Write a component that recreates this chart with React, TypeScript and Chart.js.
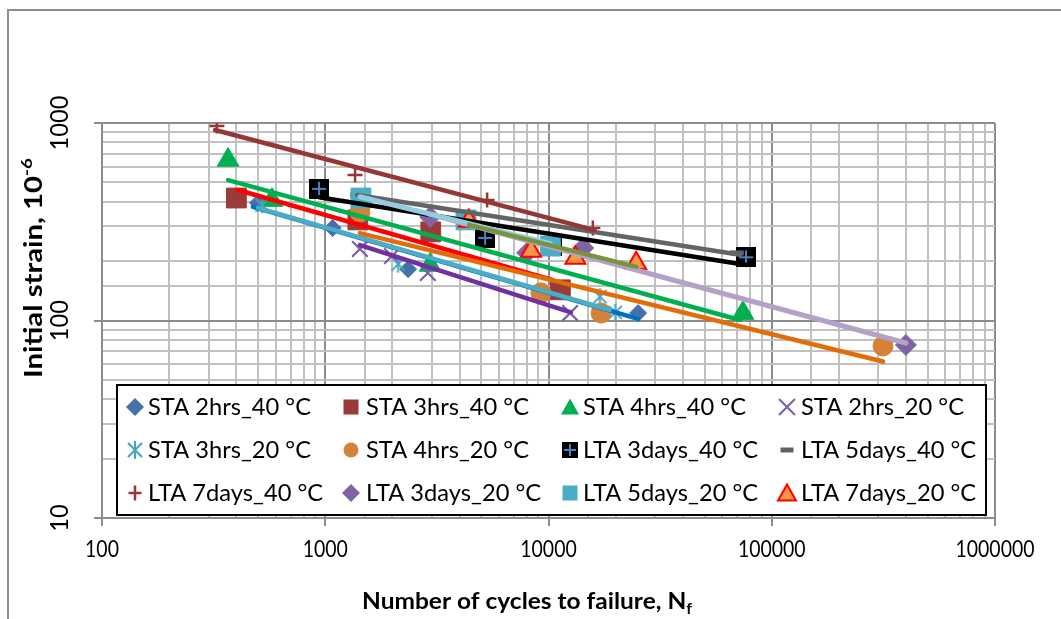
import React, { useEffect, useRef } from 'react';
import { Chart, registerables } from 'chart.js';

Chart.register(...registerables);

// ---------------- data ----------------
const seriesNames = [
  'STA 2hrs_40 °C', 'STA 3hrs_40 °C', 'STA 4hrs_40 °C', 'STA 2hrs_20 °C',
  'STA 3hrs_20 °C', 'STA 4hrs_20 °C', 'LTA 3days_40 °C', 'LTA 5days_40 °C',
  'LTA 7days_40 °C', 'LTA 3days_20 °C', 'LTA 5days_20 °C', 'LTA 7days_20 °C',
];

// Number of cycles to failure (Nf) and initial strain (10^-6)
const sta2h40Cycles = [500, 1080, 2350, 25200];
const sta2h40Strain = [394, 294, 182, 109];
const sta3h40Cycles = [400, 1400, 2970, 11300];
const sta3h40Strain = [417, 323, 281, 143];
const sta4h40Cycles = [367, 577, 2950, 74300];
const sta4h40Strain = [650, 407, 191, 109];
const sta2h20Cycles = [1430, 1990, 2880, 12500];
const sta2h20Strain = [230, 212, 174, 109];
const sta3h20Cycles = [521, 2120, 17000, 19900];
const sta3h20Strain = [385, 193, 132, 110];
const sta4h20Cycles = [1430, 9250, 17200, 315000];
const sta4h20Strain = [354, 138, 109, 74.3];
const lta3d40Cycles = [938, 5200, 10400, 76700];
const lta3d40Strain = [464, 262, 238, 209];
const lta5d40Cycles = [1390, 69800];
const lta5d40Strain = [432, 220];
const lta7d40Cycles = [327, 1360, 5310, 15800];
const lta7d40Strain = [966, 545, 407, 294];
const lta3d20Cycles = [2950, 8020, 14300, 399000];
const lta3d20Strain = [334, 220, 233, 75.2];
const lta5d20Cycles = [1445, 4270, 10200];
const lta5d20Strain = [417, 323, 238];
const lta7d20Cycles = [4400, 8350, 13200, 24700];
const lta7d20Strain = [319, 225, 207, 195];

// Power trendline end points: [Nf start, strain start, Nf end, strain end]
const sta2h40Trend = [474, 376, 25200, 102];
const sta3h40Trend = [406, 458, 10500, 160];
const sta4h40Trend = [367, 514, 72100, 100.6];
const sta2h20Trend = [1430, 241, 12600, 110];
const sta3h20Trend = [500, 372, 18800, 113];
const sta4h20Trend = [1430, 277, 315000, 62];
const lta3d40Trend = [938, 421, 77000, 191];
const lta5d40Trend = [1390, 432, 72100, 215];
const lta7d40Trend = [321, 922, 16100, 287];
const lta3d20Trend = [2950, 345, 399000, 76.9];
const lta5d20Trend = [1430, 423, 10200, 245];
const lta7d20Trend = [4400, 305, 24800, 187];

const xTickValues = [100, 1000, 10000, 100000, 1000000];
const xTickLabels = ['100', '1000', '10000', '100000', '1000000'];
const yTickValues = [10, 100, 1000];
const yTickLabels = ['10', '100', '1000'];
const xTitle = 'Number of cycles to failure, N';
const xTitleSub = 'f';
const yTitle = 'Initial strain, 10';
const yTitleSup = '-6';

const cyclesList = [sta2h40Cycles, sta3h40Cycles, sta4h40Cycles, sta2h20Cycles, sta3h20Cycles, sta4h20Cycles,
  lta3d40Cycles, lta5d40Cycles, lta7d40Cycles, lta3d20Cycles, lta5d20Cycles, lta7d20Cycles];
const strainList = [sta2h40Strain, sta3h40Strain, sta4h40Strain, sta2h20Strain, sta3h20Strain, sta4h20Strain,
  lta3d40Strain, lta5d40Strain, lta7d40Strain, lta3d20Strain, lta5d20Strain, lta7d20Strain];
const trendList = [sta2h40Trend, sta3h40Trend, sta4h40Trend, sta2h20Trend, sta3h20Trend, sta4h20Trend,
  lta3d40Trend, lta5d40Trend, lta7d40Trend, lta3d20Trend, lta5d20Trend, lta7d20Trend];

// ---------------- styles ----------------
const markerStyles: any[] = [
  { kind: 'diamond', pointStyle: 'rectRot', radius: 8.5, fill: '#4472a8', stroke: '#4472a8', bw: 1 },
  { kind: 'square', pointStyle: 'rect', radius: 14, fill: '#9b3b38', stroke: '#9b3b38', bw: 1 },
  { kind: 'triangle', pointStyle: 'triangle', radius: 12.5, fill: '#00b050', stroke: '#00b050', bw: 1 },
  { kind: 'x', pointStyle: 'crossRot', radius: 11, fill: '#7b5ea7', stroke: '#7b5ea7', bw: 2.2 },
  { kind: 'asterisk', pointStyle: null, radius: 9, fill: '#46a5bd', stroke: '#46a5bd', bw: 2 },
  { kind: 'circle', pointStyle: 'circle', radius: 10, fill: '#d4823a', stroke: '#d4823a', bw: 1 },
  { kind: 'boxplus', pointStyle: null, radius: 10, fill: '#000000', stroke: '#4f81bd', bw: 2 },
  { kind: 'dash', pointStyle: 'line', radius: 7, fill: '#606060', stroke: '#606060', bw: 5 },
  { kind: 'plus', pointStyle: 'cross', radius: 7.5, fill: '#953735', stroke: '#953735', bw: 2.5 },
  { kind: 'diamond', pointStyle: 'rectRot', radius: 10.5, fill: '#8064a2', stroke: '#8064a2', bw: 1 },
  { kind: 'square', pointStyle: 'rect', radius: 14, fill: '#4bacc6', stroke: '#4bacc6', bw: 1 },
  { kind: 'triangle', pointStyle: 'triangle', radius: 11.5, fill: '#f79646', stroke: '#ff0000', bw: 2 },
];
const trendColors = ['#0070c0', '#ff0000', '#00b050', '#7030a0', '#4bacc6', '#e36c09',
  '#000000', '#646464', '#953735', '#b3a2c7', '#93cddd', '#77933c'];

const MAJOR = '#8c8c8c';
const MINOR = '#c0c0c0';
const FONT = 'Lato, "Open Sans", sans-serif';

const isDecade = (v: number) => {
  if (!v || v <= 0) return false;
  const l = Math.log10(v);
  return Math.abs(l - Math.round(l)) < 1e-6;
};

function makeAsterisk(size: number, color: string, lw: number) {
  const c = document.createElement('canvas');
  const d = Math.ceil(size + lw * 2);
  c.width = d; c.height = d;
  const g = c.getContext('2d')!;
  const m = d / 2, r = size / 2, k = r * 0.78;
  g.strokeStyle = color; g.lineWidth = lw;
  g.beginPath();
  g.moveTo(m - k, m - k); g.lineTo(m + k, m + k);
  g.moveTo(m + k, m - k); g.lineTo(m - k, m + k);
  g.moveTo(m, m - r); g.lineTo(m, m + r);
  g.stroke();
  return c;
}

function makeBoxPlus(size: number, fill: string, plus: string, lw: number) {
  const c = document.createElement('canvas');
  c.width = size; c.height = size;
  const g = c.getContext('2d')!;
  g.fillStyle = fill; g.fillRect(0, 0, size, size);
  const m = size / 2, a = size / 2 - 3;
  g.strokeStyle = plus; g.lineWidth = lw;
  g.beginPath();
  g.moveTo(m - a, m); g.lineTo(m + a, m);
  g.moveTo(m, m - a); g.lineTo(m, m + a);
  g.stroke();
  return c;
}

function drawLegendMarker(ctx: CanvasRenderingContext2D, st: any, x: number, y: number) {
  ctx.save();
  ctx.fillStyle = st.fill; ctx.strokeStyle = st.stroke; ctx.lineWidth = st.bw;
  ctx.beginPath();
  switch (st.kind) {
    case 'diamond':
      ctx.moveTo(x, y - 9); ctx.lineTo(x + 9, y); ctx.lineTo(x, y + 9); ctx.lineTo(x - 9, y); ctx.closePath(); ctx.fill();
      break;
    case 'square':
      ctx.fillRect(x - 7.5, y - 7.5, 15, 15);
      break;
    case 'triangle':
      ctx.moveTo(x, y - 8.5); ctx.lineTo(x + 9, y + 7.5); ctx.lineTo(x - 9, y + 7.5); ctx.closePath(); ctx.fill();
      if (st.stroke !== st.fill) ctx.stroke();
      break;
    case 'x':
      ctx.lineWidth = 2;
      ctx.moveTo(x - 8, y - 8); ctx.lineTo(x + 8, y + 8); ctx.moveTo(x + 8, y - 8); ctx.lineTo(x - 8, y + 8); ctx.stroke();
      break;
    case 'asterisk':
      ctx.lineWidth = 2;
      ctx.moveTo(x - 7, y - 7); ctx.lineTo(x + 7, y + 7); ctx.moveTo(x + 7, y - 7); ctx.lineTo(x - 7, y + 7);
      ctx.moveTo(x, y - 9); ctx.lineTo(x, y + 9); ctx.stroke();
      break;
    case 'circle':
      ctx.arc(x, y, 7.5, 0, Math.PI * 2); ctx.fill();
      break;
    case 'boxplus':
      ctx.fillStyle = '#000'; ctx.fillRect(x - 8, y - 8, 16, 16);
      ctx.strokeStyle = st.stroke; ctx.lineWidth = 2;
      ctx.moveTo(x - 6, y); ctx.lineTo(x + 6, y); ctx.moveTo(x, y - 6); ctx.lineTo(x, y + 6); ctx.stroke();
      break;
    case 'dash':
      ctx.fillRect(x - 6.5, y - 2.5, 13, 5);
      break;
    case 'plus':
      ctx.lineWidth = 2.5;
      ctx.moveTo(x - 6.5, y); ctx.lineTo(x + 6.5, y); ctx.moveTo(x, y - 7.5); ctx.lineTo(x, y + 7.5); ctx.stroke();
      break;
  }
  ctx.restore();
}

type Part = { text: string; font: string; dy: number };

function drawRich(ctx: CanvasRenderingContext2D, parts: Part[], x: number, y: number, rot: number, targetLen: number) {
  ctx.save();
  let total = 0;
  const widths = parts.map((p) => { ctx.font = p.font; const w = ctx.measureText(p.text).width; total += w; return w; });
  const s = targetLen / total;
  ctx.translate(x, y);
  if (rot) ctx.rotate(rot);
  ctx.scale(s, 1);
  ctx.fillStyle = '#000';
  ctx.textAlign = 'left';
  ctx.textBaseline = 'alphabetic';
  let cx = -total / 2;
  parts.forEach((p, i) => {
    ctx.font = p.font;
    ctx.fillText(p.text, cx, p.dy / 1);
    cx += widths[i];
  });
  ctx.restore();
}

const textPlugin = {
  id: 'excelTexts',
  afterDraw(chart: any) {
    const ctx: CanvasRenderingContext2D = chart.ctx;
    const xs = chart.scales.x;
    const ys = chart.scales.y;

    // x tick labels
    ctx.save();
    const xFont = `24px ${FONT}`;
    ctx.font = xFont;
    const sx = 79 / ctx.measureText('1000000').width;
    xTickValues.forEach((v, i) => {
      ctx.save();
      ctx.translate(xs.getPixelForValue(v), 557);
      ctx.scale(sx, 1);
      ctx.font = xFont; ctx.fillStyle = '#000'; ctx.textAlign = 'center'; ctx.textBaseline = 'alphabetic';
      ctx.fillText(xTickLabels[i], 0, 0);
      ctx.restore();
    });
    // y tick labels (rotated)
    const yFont = `25px ${FONT}`;
    ctx.font = yFont;
    const sy = 55 / ctx.measureText('1000').width;
    yTickValues.forEach((v, i) => {
      ctx.save();
      ctx.translate(68, ys.getPixelForValue(v));
      ctx.rotate(-Math.PI / 2);
      ctx.scale(sy, 1);
      ctx.font = yFont; ctx.fillStyle = '#000'; ctx.textAlign = 'center'; ctx.textBaseline = 'alphabetic';
      ctx.fillText(yTickLabels[i], 0, 0);
      ctx.restore();
    });
    ctx.restore();

    // axis titles
    drawRich(ctx, [
      { text: xTitle, font: `bold 23px ${FONT}`, dy: 0 },
      { text: xTitleSub, font: `bold 15px ${FONT}`, dy: 5 },
    ], 527, 609, 0, 330);
    drawRich(ctx, [
      { text: yTitle, font: `bold 25px ${FONT}`, dy: 0 },
      { text: yTitleSup, font: `bold 16px ${FONT}`, dy: -10 },
    ], 42, 268, -Math.PI / 2, 220);

    // legend
    ctx.save();
    ctx.fillStyle = '#fff';
    ctx.fillRect(117, 385, 869, 130);
    ctx.strokeStyle = '#000';
    ctx.lineWidth = 2;
    ctx.strokeRect(117, 385, 869, 130);
    const colMarker = [135, 351, 570, 787];
    const colText = [148, 366, 583, 801];
    const rowY = [407, 450, 493];
    const lFont = `23px ${FONT}`;
    ctx.font = lFont;
    const sl = 163 / ctx.measureText(seriesNames[0]).width;
    seriesNames.forEach((name, i) => {
      const r = Math.floor(i / 4), c = i % 4;
      drawLegendMarker(ctx, markerStyles[i], colMarker[c], rowY[r]);
      ctx.save();
      ctx.translate(colText[c], rowY[r] + 8.3);
      ctx.scale(sl, 1);
      ctx.font = lFont; ctx.fillStyle = '#000'; ctx.textAlign = 'left'; ctx.textBaseline = 'alphabetic';
      ctx.fillText(name, 0, 0);
      ctx.restore();
    });
    ctx.restore();
  },
};

export default function App() {
  const ref = useRef<HTMLCanvasElement>(null);

  useEffect(() => {
    const asterisk = makeAsterisk(17, markerStyles[4].stroke, 2);
    const boxPlus = makeBoxPlus(20, '#000000', markerStyles[6].stroke, 2);

    const datasets: any[] = [];
    seriesNames.forEach((name, i) => {
      const st = markerStyles[i];
      let ps: any = st.pointStyle;
      if (st.kind === 'asterisk') ps = asterisk;
      if (st.kind === 'boxplus') ps = boxPlus;
      datasets.push({
        label: name,
        data: cyclesList[i].map((c, k) => ({ x: c, y: strainList[i][k] })),
        showLine: false,
        pointStyle: ps,
        pointRadius: st.radius,
        pointBackgroundColor: st.fill,
        pointBorderColor: st.stroke,
        pointBorderWidth: st.bw,
        order: 100 - i,
      });
    });
    seriesNames.forEach((name, i) => {
      const t = trendList[i];
      datasets.push({
        label: name + ' trend',
        data: [{ x: t[0], y: t[1] }, { x: t[2], y: t[3] }],
        showLine: true,
        borderColor: trendColors[i],
        borderWidth: i === 9 || i === 10 ? 5 : 4.5,
        borderCapStyle: 'round',
        pointRadius: 0,
        fill: false,
        order: 12 - i,
      });
    });

    const gridColor = (c: any) => (isDecade(c.tick && c.tick.value) ? MAJOR : MINOR);
    const tickColor = (c: any) => (isDecade(c.tick && c.tick.value) ? MAJOR : 'rgba(0,0,0,0)');

    const chart = new Chart(ref.current!, {
      type: 'scatter',
      data: { datasets },
      options: {
        responsive: false,
        animation: false,
        events: [],
        devicePixelRatio: 1,
        layout: { padding: { left: 0, top: 123, right: 66, bottom: 0 } },
        plugins: { legend: { display: false }, tooltip: { enabled: false } },
        scales: {
          x: {
            type: 'logarithmic',
            position: 'bottom',
            min: 100,
            max: 1000000,
            afterFit: (s: any) => { s.height = 101; },
            ticks: { display: false, autoSkip: false },
            grid: { color: gridColor, lineWidth: 2, drawTicks: true, tickLength: 8, tickColor, tickWidth: 2 },
            border: { display: true, color: MAJOR, width: 2 },
          },
          y: {
            type: 'logarithmic',
            position: 'left',
            min: 10,
            max: 1000,
            afterFit: (s: any) => { s.width = 102; },
            ticks: { display: false, autoSkip: false },
            grid: { color: gridColor, lineWidth: 2, drawTicks: true, tickLength: 8, tickColor, tickWidth: 2 },
            border: { display: true, color: MAJOR, width: 2 },
          },
        },
      } as any,
      plugins: [textPlugin],
    });
    return () => chart.destroy();
  }, []);

  return (
    <div style={{ position: 'absolute', left: 0, top: 0, width: 1061, height: 619, overflow: 'hidden', background: '#fff' }}>
      <div style={{ position: 'absolute', left: 7, top: 9, width: 1100, height: 700, border: '2px solid #8c8c8c' }} />
      <canvas ref={ref} width={1061} height={619} style={{ position: 'absolute', left: 0, top: 0, width: 1061, height: 619 }} />
    </div>
  );
}
